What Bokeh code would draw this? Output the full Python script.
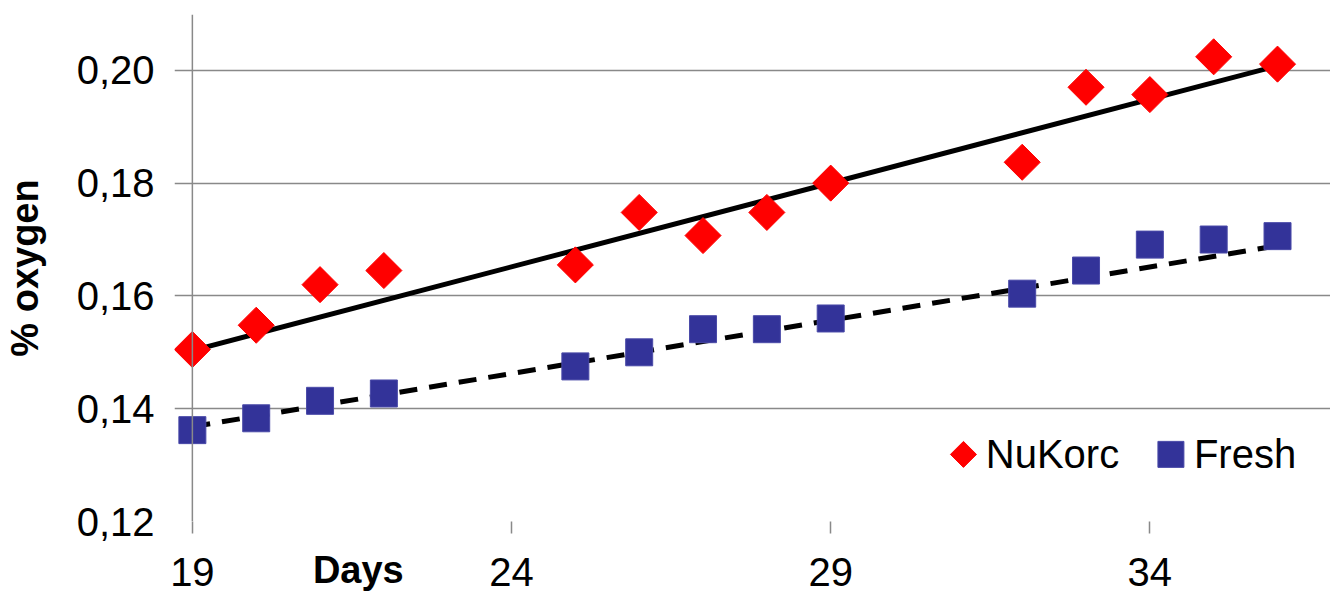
import numpy as np
from bokeh.plotting import figure
from bokeh.models import (FixedTicker, CustomJSTickFormatter, Range1d, Span, LinearAxis)
from bokeh.core.properties import value
from bokeh.embed import file_html
from bokeh.resources import INLINE

days = [19, 20, 21, 22, 25, 26, 27, 28, 29, 32, 33, 34, 35, 36]
nukorc = [0.1505, 0.1548, 0.1620, 0.1645, 0.1655, 0.1748, 0.1707, 0.1748, 0.1800,
          0.1837, 0.1970, 0.1957, 0.2024, 0.2011]
fresh = [0.1362, 0.1383, 0.1414, 0.1427, 0.1475, 0.1500, 0.1541, 0.1541, 0.1560,
         0.1604, 0.1645, 0.1691, 0.1700, 0.1706]
# trendline end points
trend_days = [19, 36]
trend_nukorc = [0.1503, 0.2008]
trend_fresh = [0.1368, 0.1689]
x_ticks = [19, 24, 29, 34]
y_ticks = [0.12, 0.14, 0.16, 0.18, 0.20]
series_names = ["NuKorc", "Fresh"]
x_title = "Days"
y_title = "% oxygen"

FONT = "Liberation Sans"
GRAY = "#898989"
RED = "#FF0000"
BLUE = "#333399"

p = figure(width=1330, height=601, output_backend="svg", toolbar_location=None,
           x_range=Range1d(18.72, 36.83), y_range=Range1d(0.12, 0.2099),
           min_border_left=166, min_border_right=0, min_border_top=14, min_border_bottom=80)
p.outline_line_color = None
p.background_fill_color = "white"

# axes
p.xaxis.ticker = FixedTicker(ticks=x_ticks)
p.yaxis.ticker = FixedTicker(ticks=y_ticks)
p.yaxis.formatter = CustomJSTickFormatter(code="return tick.toFixed(2).replace('.', ',');")
for ax in (p.xaxis[0], p.yaxis[0]):
    ax.axis_line_color = None
    ax.major_tick_line_color = GRAY
    ax.major_tick_line_width = 1.5
    ax.major_tick_out = 12
    ax.major_tick_in = 0
    ax.minor_tick_line_color = None
    ax.major_label_text_font = FONT
    ax.major_label_text_font_size = "40px"
    ax.major_label_text_color = "black"
p.yaxis.major_tick_line_color = None
p.yaxis.major_tick_out = 0
p.yaxis.major_label_standoff = 20
p.xaxis.major_label_standoff = 24
p.yaxis.axis_label = y_title
p.yaxis.axis_label_text_font = FONT
p.yaxis.axis_label_text_font_size = "38px"
p.yaxis.axis_label_text_font_style = "bold"
p.yaxis.axis_label_text_color = "black"
p.yaxis.axis_label_standoff = 28

# "Days" title sitting on the same row as the x tick labels
title_x = 21.6
days_axis = LinearAxis(ticker=FixedTicker(ticks=[title_x]),
                       formatter=CustomJSTickFormatter(code="return '%s';" % x_title),
                       axis_line_color=None, major_tick_line_color=None,
                       major_tick_out=0, major_tick_in=0, minor_tick_line_color=None,
                       major_label_standoff=-40,
                       major_label_text_font=FONT, major_label_text_font_size="38px",
                       major_label_text_font_style="bold", major_label_text_color="black")
p.add_layout(days_axis, "below")

p.xgrid.grid_line_color = None
p.ygrid.grid_line_color = GRAY
p.ygrid.grid_line_width = 1.5

# vertical axis line at day 19
p.add_layout(Span(location=x_ticks[0], dimension="height", line_color=GRAY, line_width=1.5))

# trendlines
p.line(trend_days, trend_nukorc, line_color="black", line_width=5)
p.line(trend_days, trend_fresh, line_color="black", line_width=5, line_dash="18 12")

p.scatter(days, nukorc, marker="square", angle=np.pi / 4, size=25.5,
          fill_color=RED, line_color=RED)
p.scatter(days, fresh, marker="square", size=27, fill_color=BLUE, line_color="#4a4aa8")

# legend (drawn as keys + labels in the lower right corner)
leg_y = 0.1319
leg_key_x = [31.08, 34.33]
leg_text_x = [31.43, 34.69]
p.scatter([leg_key_x[0]], [leg_y], marker="square", angle=np.pi / 4, size=18.4,
          fill_color=RED, line_color=RED)
p.scatter([leg_key_x[1]], [leg_y], marker="square", size=26, fill_color=BLUE, line_color="#4a4aa8")
p.text(leg_text_x, [leg_y, leg_y], text=series_names, text_font=value(FONT),
       text_font_size="40px", text_color="black", text_baseline="middle", text_align="left")

open("out.html", "w").write(file_html(p, INLINE))
